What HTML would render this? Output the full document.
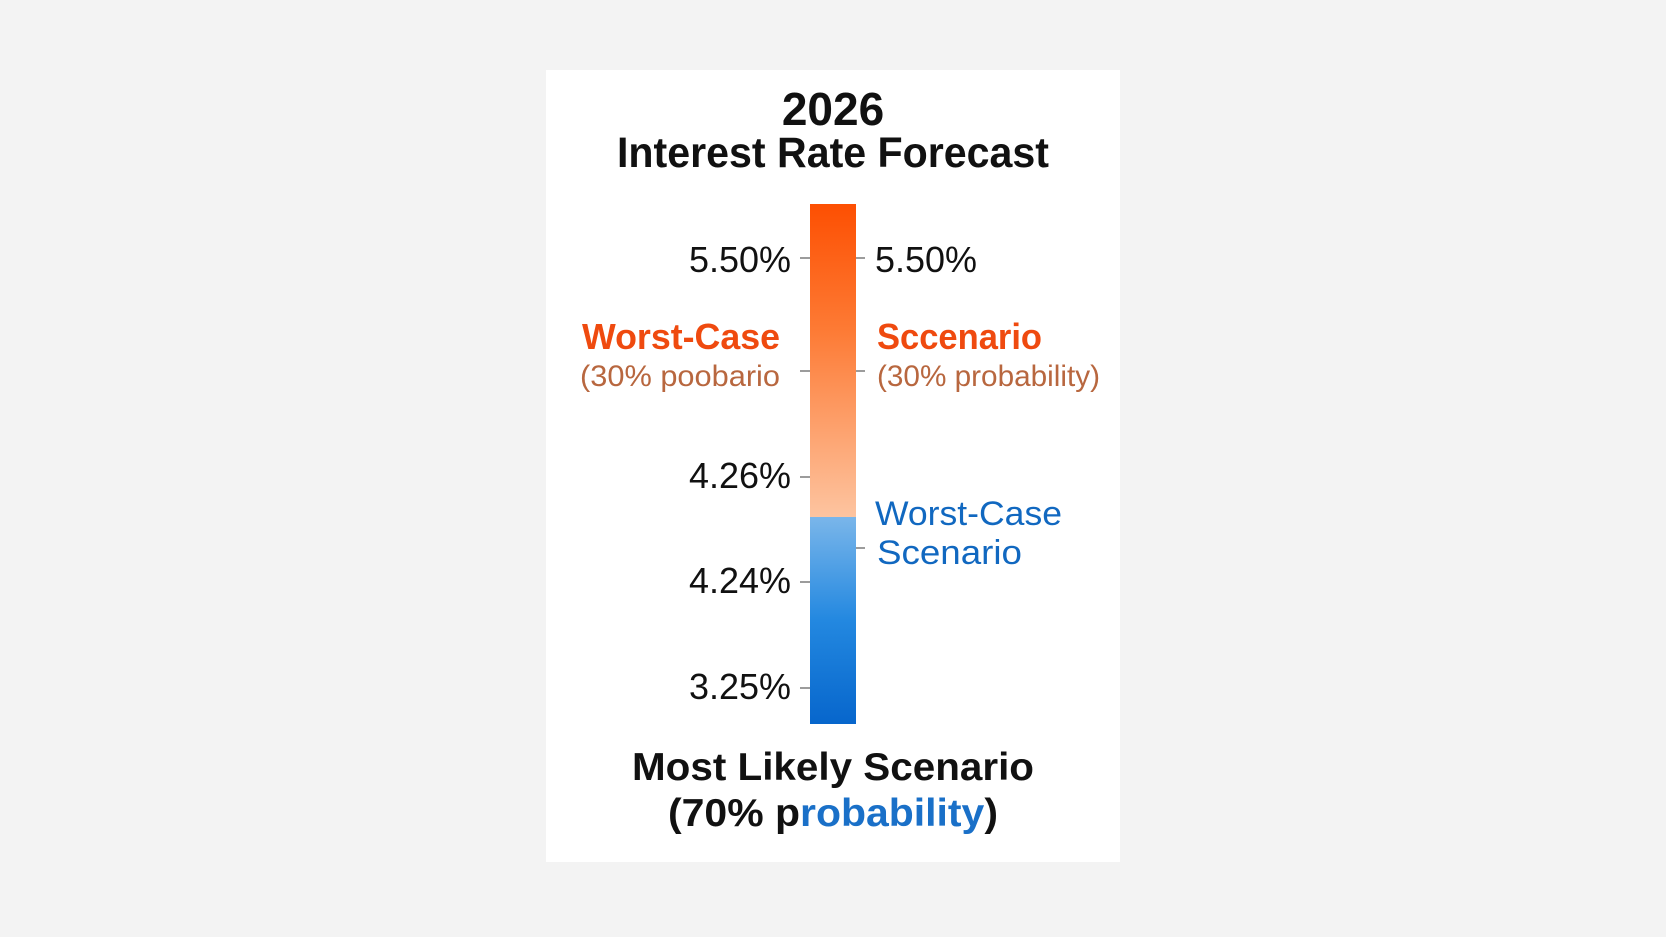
<!DOCTYPE html>
<html><head><meta charset="utf-8"><style>
html,body{margin:0;padding:0;background:#f3f3f3;}
svg{display:block;font-family:"Liberation Sans",Arial,sans-serif;}
</style></head><body>
<svg width="1666" height="937" viewBox="0 0 1666 937" xmlns="http://www.w3.org/2000/svg">
<defs>
<linearGradient id="og" x1="0" y1="0" x2="0" y2="1">
<stop offset="0" stop-color="#fd4f02"/><stop offset="0.4" stop-color="#fd7a34"/><stop offset="1" stop-color="#fdc4a0"/>
</linearGradient>
<linearGradient id="bg" x1="0" y1="0" x2="0" y2="1">
<stop offset="0" stop-color="#7ab6ea"/><stop offset="0.5" stop-color="#2388e0"/><stop offset="1" stop-color="#0766cc"/>
</linearGradient>
</defs>
<rect width="1666" height="937" fill="#f3f3f3"/>
<rect x="546" y="70" width="574" height="792" fill="#ffffff"/>
<text x="833" y="125" text-anchor="middle" font-size="46" font-weight="bold" fill="#111">2026</text>
<text x="833" y="167" text-anchor="middle" font-size="43" font-weight="bold" fill="#111" textLength="432" lengthAdjust="spacingAndGlyphs">Interest Rate Forecast</text>
<rect x="810" y="204" width="46" height="313" fill="url(#og)"/>
<rect x="810" y="517" width="46" height="207" fill="url(#bg)"/>
<g stroke="#666" stroke-width="1.3">
<line x1="800" y1="258" x2="810" y2="258"/><line x1="856" y1="258" x2="865" y2="258"/>
<line x1="800" y1="371" x2="810" y2="371"/><line x1="856" y1="371" x2="865" y2="371"/>
<line x1="800" y1="477" x2="810" y2="477"/>
<line x1="856" y1="548" x2="865" y2="548"/>
<line x1="800" y1="582" x2="810" y2="582"/>
<line x1="800" y1="688" x2="810" y2="688"/>
</g>
<g font-size="36" fill="#111">
<text x="791" y="272" text-anchor="end" textLength="102" lengthAdjust="spacingAndGlyphs">5.50%</text>
<text x="875" y="272" textLength="102" lengthAdjust="spacingAndGlyphs">5.50%</text>
<text x="791" y="488" text-anchor="end" textLength="102" lengthAdjust="spacingAndGlyphs">4.26%</text>
<text x="791" y="593" text-anchor="end" textLength="102" lengthAdjust="spacingAndGlyphs">4.24%</text>
<text x="791" y="699" text-anchor="end" textLength="102" lengthAdjust="spacingAndGlyphs">3.25%</text>
</g>
<text x="780" y="349" text-anchor="end" font-size="36" font-weight="bold" fill="#ef4a0f" textLength="198" lengthAdjust="spacingAndGlyphs">Worst-Case</text>
<text x="877" y="349" font-size="36" font-weight="bold" fill="#ef4a0f" textLength="165" lengthAdjust="spacingAndGlyphs">Sccenario</text>
<text x="780" y="386" text-anchor="end" font-size="30" fill="#b8673f" textLength="200" lengthAdjust="spacingAndGlyphs">(30% poobario</text>
<text x="877" y="386" font-size="30" fill="#b8673f" textLength="223" lengthAdjust="spacingAndGlyphs">(30% probability)</text>
<text x="875" y="525" font-size="34" fill="#1168c0" textLength="187" lengthAdjust="spacingAndGlyphs">Worst-Case</text>
<text x="877" y="564" font-size="34" fill="#1168c0" textLength="145" lengthAdjust="spacingAndGlyphs">Scenario</text>
<text x="833" y="780" text-anchor="middle" font-size="39" font-weight="bold" fill="#111" textLength="402" lengthAdjust="spacingAndGlyphs">Most Likely Scenario</text>
<text x="833" y="826" text-anchor="middle" font-size="39" font-weight="bold" fill="#111" textLength="330" lengthAdjust="spacingAndGlyphs">(70% p<tspan fill="#1a70c8">robability</tspan>)</text>
</svg>
</body></html>
